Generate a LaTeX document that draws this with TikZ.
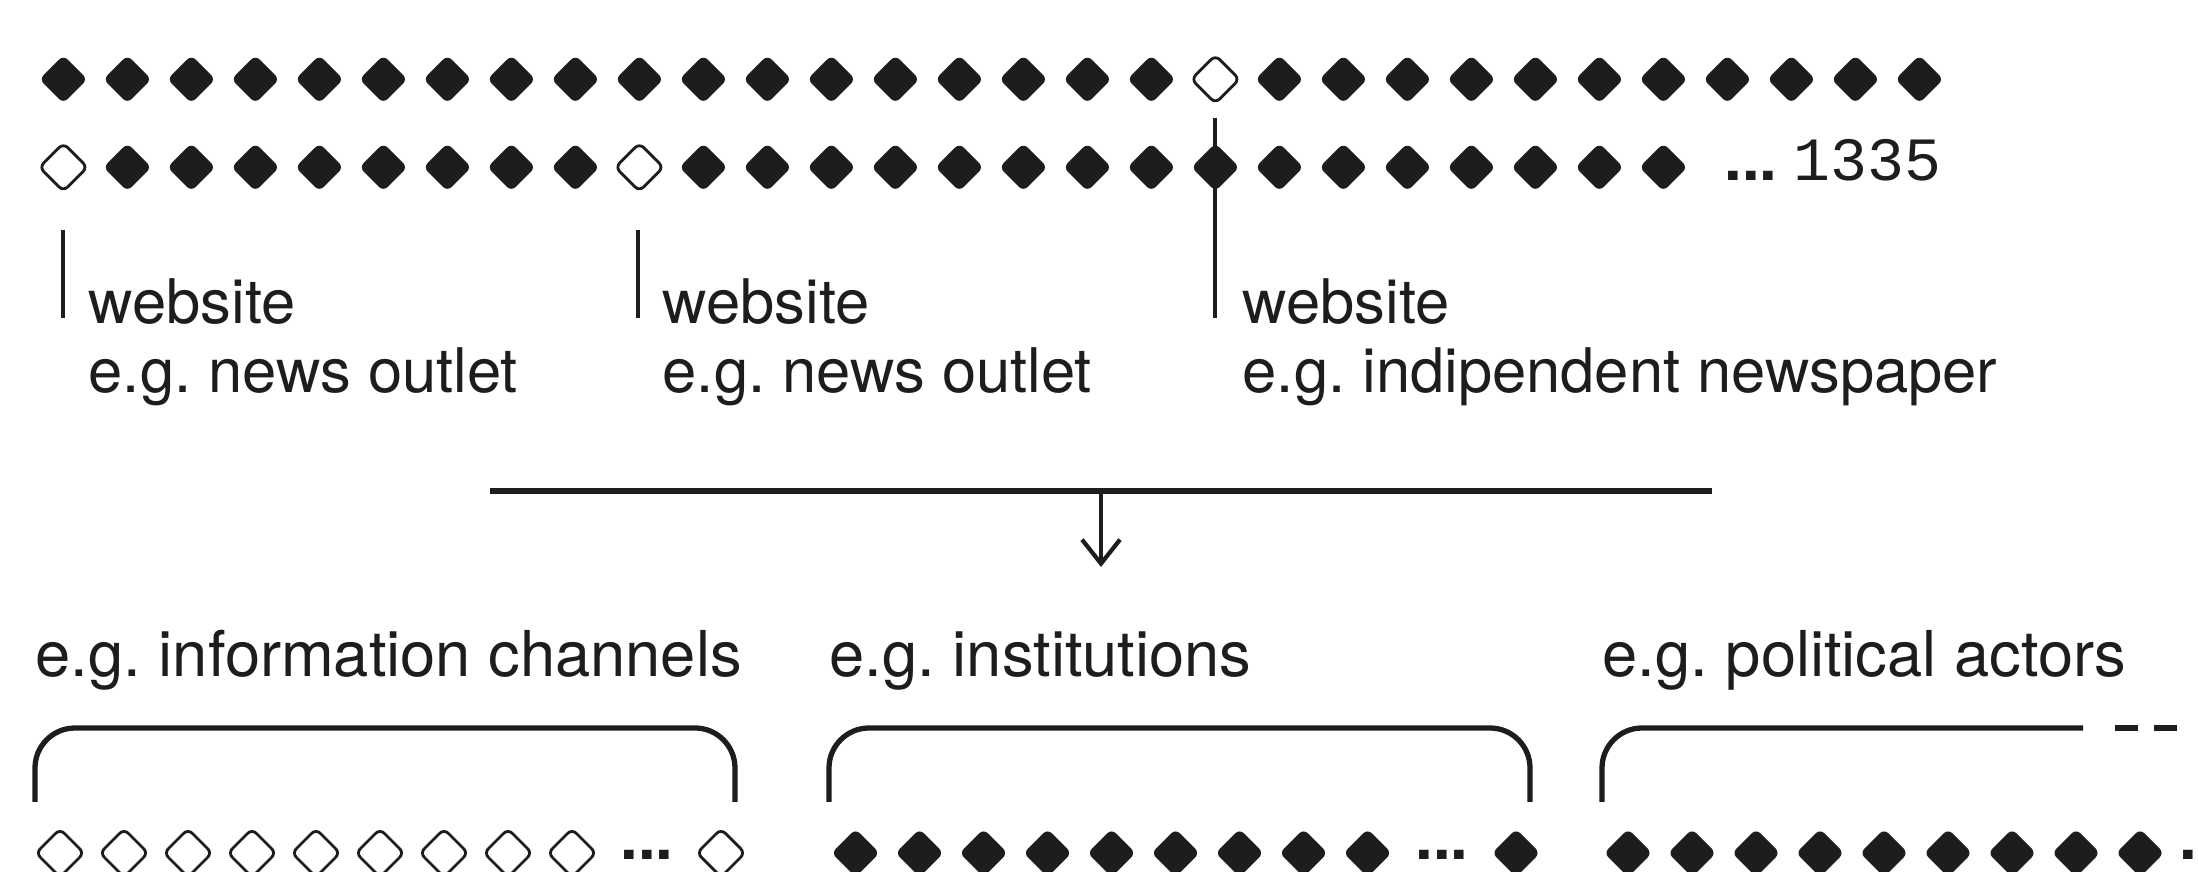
\documentclass[tikz,border=0pt]{standalone}
\usepackage{fontspec}
\setmainfont{TeX Gyre Heros}
\setmonofont{Liberation Mono}
\usetikzlibrary{shapes.geometric, arrows.meta, positioning}
\definecolor{ink}{HTML}{1D1D1B}
\frenchspacing

\begin{document}
\begin{tikzpicture}[
  x=0.1mm, y=-0.1mm,
  gem/.style={diamond, minimum width=4.8mm, minimum height=4.8mm, inner sep=0pt, outer sep=0pt, rounded corners=0.6mm, fill=ink},
  gemopen/.style={gem, fill=white, draw=ink, line width=0.8pt},
  marker/.style={draw=ink, line width=1.4pt},
  note/.style={inner sep=0pt, anchor=base west, align=left, text=ink, font=\fontsize{17.5pt}{19.9pt}\selectfont},
  groupname/.style={inner sep=0pt, anchor=base west, text=ink, font=\fontsize{18pt}{21pt}\selectfont},
  dots/.style={inner sep=0pt, anchor=base, text=ink, font=\fontsize{18pt}{21pt}\selectfont\bfseries},
  bracket/.style={draw=ink, line width=1.5pt, rounded corners=4mm},
  arrow/.style={draw=ink, line width=1.2pt, -{Straight Barb[length=2.4mm, width=3.8mm]}}
]
\useasboundingbox[fill=white] (0,0) rectangle (2198,872);

% Sample rows
\foreach \i in {0,...,17,19,20,...,29}
  \node[gem] (r1-\i) at (63.4+64*\i, 79.3) {};
\node[gemopen] (r1-18) at (63.4+64*18, 79.3) {};

\foreach \i in {1,...,8,10,11,...,25}
  \node[gem] (r2-\i) at (63.4+64*\i, 167.3) {};
\foreach \i in {0,9}
  \node[gemopen] (r2-\i) at (63.4+64*\i, 167.3) {};

\node[dots, anchor=base west] (r2-more) at (1724,181) {...};
\node[inner sep=0pt, anchor=base west, text=ink, font=\fontsize{17.5pt}{21pt}\ttfamily] (total) at (1793,181) {1335};

% Pointers to websites
\coordinate (pin1) at (63,230);
\coordinate (pin2) at (638,230);
\coordinate (pin3) at (1215,118);
\draw[marker] (pin1) -- ++(0,88);
\draw[marker] (pin2) -- ++(0,88);
\draw[marker] (pin3) -- ++(0,200);

\node[note] (web1) at (88,393) {website\\e.g. news outlet};
\node[note] (web2) at (662,393) {website\\e.g. news outlet};
\node[note] (web3) at (1242,393) {website\\e.g. indipendent newspaper};

% Merge and arrow
\coordinate (mergeL) at (490,491);
\coordinate (mergeR) at (1712,491);
\coordinate (mergeM) at (1101,491);
\coordinate (mergeTip) at (1101,567);
\draw[marker, line width=1.45pt] (mergeL) -- (mergeR);
\draw[arrow] (mergeM) -- (mergeTip);

% Categories
\node[groupname] (cat1) at (35,677) {e.g. information channels};
\node[groupname] (cat2) at (829,677) {e.g. institutions};
\node[groupname] (cat3) at (1602,677) {e.g. political actors};

\coordinate (b1a) at (35,802);
\coordinate (b1b) at (735,802);
\coordinate (b2a) at (829,802);
\coordinate (b2b) at (1530,802);
\coordinate (b3a) at (1602,802);
\coordinate (b3b) at (2083,728);
\coordinate (b3c) at (2115,728);
\coordinate (b3d) at (2177,728);
\draw[bracket] (b1a) -- ++(0,-74) -| (b1b);
\draw[bracket] (b2a) -- ++(0,-74) -| (b2b);
\draw[bracket] (b3a) -- ++(0,-74) -- (b3b);
\draw[bracket, dash pattern=on 2.3mm off 1.6mm] (b3c) -- (b3d);

\foreach \i in {0,...,8}
  \node[gemopen] (c1-\i) at (60+64*\i, 853) {};
\node[dots] (c1-more) at (647,859) {...};
\node[gemopen] (c1-last) at (721,853) {};

\foreach \i in {0,...,8}
  \node[gem] (c2-\i) at (855.5+64*\i, 853) {};
\node[dots] (c2-more) at (1442,859) {...};
\node[gem] (c2-last) at (1516,853) {};

\foreach \i in {0,...,8}
  \node[gem] (c3-\i) at (1628+64*\i, 853) {};
\node[dots, anchor=base west] (c3-more) at (2179,859) {...};
\end{tikzpicture}
\end{document}
